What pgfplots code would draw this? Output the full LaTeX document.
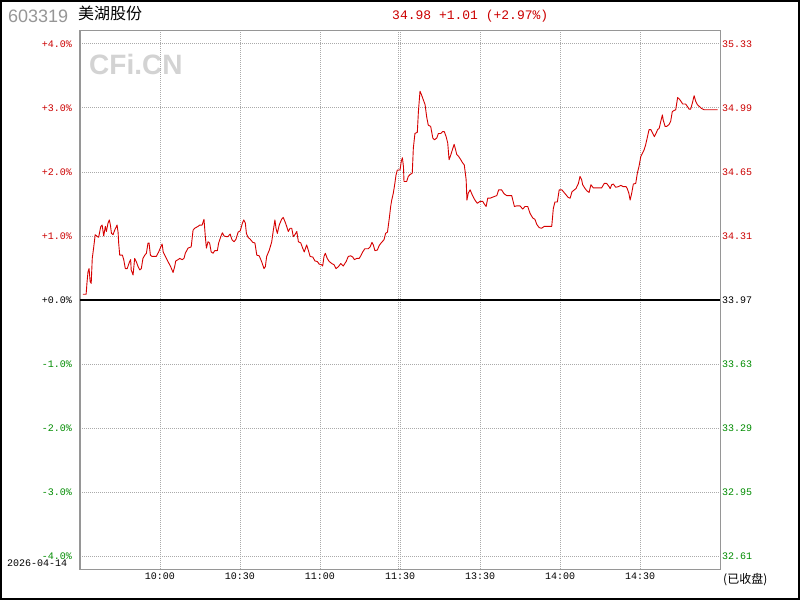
\documentclass[border=0pt]{standalone}
\usepackage{pgfplots}
\pgfplotsset{compat=1.18}
\usepackage{fontspec}
\setmainfont{Liberation Sans}
\setmonofont{Liberation Mono}
\newfontfamily\cjk{Noto Sans CJK SC}

\definecolor{cred}{RGB}{204,0,0}
\definecolor{cline}{RGB}{214,0,0}
\definecolor{cgreen}{RGB}{0,140,0}
\definecolor{axgray}{RGB}{150,150,150}
\definecolor{gridgray}{RGB}{170,170,170}
\definecolor{titlegray}{RGB}{150,150,150}
\definecolor{wmark}{RGB}{211,211,211}

\newcommand{\lbl}{\ttfamily\fontsize{10}{12}\selectfont}

\begin{document}
\begin{tikzpicture}[x=1pt,y=1pt]
\useasboundingbox (0,0) rectangle (800,600);
\fill[white] (0,0) rectangle (800,600);

% header
\node[anchor=base west, inner sep=0pt, text=titlegray, font=\fontsize{18}{20}\selectfont] at (8,577) {603319};
\node[anchor=base west, inner sep=0pt, font=\cjk\fontsize{16}{18}\selectfont] at (78,580) {美湖股份};
\node[anchor=base west, inner sep=0pt, text=cred, font=\ttfamily\fontsize{13}{15}\selectfont] at (392,580) {34.98 +1.01 (+2.97\%)};
\node[anchor=base west, inner sep=0pt, text=wmark, font=\bfseries\fontsize{28}{30}\selectfont] at (89,525) {CFi.CN};

\begin{axis}[
    at={(80pt,31pt)}, anchor=south west,
    scale only axis, width=640pt, height=538pt,
    xmin=0, xmax=240, ymin=-4.2, ymax=4.2,
    axis line style={draw=axgray, line width=1pt},
    major tick length=0pt,
    xtick={30,60,90,120,150,180,210},
    xticklabels={10:00,10:30,11:00,11:30,13:30,14:00,14:30},
    extra x ticks={119.4}, extra x tick labels={},
    ytick={-4,-3,-2,-1,0,1,2,3,4},
    yticklabels={
        \textcolor{cgreen}{-4.0\%},\textcolor{cgreen}{-3.0\%},\textcolor{cgreen}{-2.0\%},\textcolor{cgreen}{-1.0\%},
        +0.0\%,
        \textcolor{cred}{+1.0\%},\textcolor{cred}{+2.0\%},\textcolor{cred}{+3.0\%},\textcolor{cred}{+4.0\%}},
    xticklabel style={font=\lbl, anchor=north, inner sep=0pt, yshift=-4pt},
    yticklabel style={font=\lbl, anchor=east, inner sep=0pt, xshift=-8pt},
    grid=major,
    major grid style={draw=gridgray, line width=0.8pt, dash pattern=on 1pt off 1pt},
    clip=false,
]
\addplot[black, line width=1.3pt] coordinates {(0,0) (240,0)};
\addplot[cline, line width=0.9pt, line join=round] coordinates {
(1.1,0.09) (2.3,0.09) (2.6,0.26) (3.0,0.44) (3.4,0.49) (3.8,0.29) (4.2,0.26) (4.6,0.65)
(5.1,0.81) (5.7,1.02) (6.5,0.99) (7.0,0.98) (7.8,1.15) (8.3,1.17) (8.9,1.00) (9.5,1.15)
(9.9,1.07) (10.5,1.20) (11.0,1.25) (11.4,1.17) (11.8,1.04) (12.4,1.02) (13.0,1.09) (13.9,1.17)
(14.3,1.05) (14.5,0.89) (14.9,0.70) (15.9,0.70) (16.4,0.63) (17.0,0.49) (17.7,0.49) (18.6,0.60)
(19.0,0.63) (19.2,0.47) (19.9,0.39) (20.5,0.65) (21.1,0.60) (21.8,0.52) (22.4,0.47) (23.0,0.49)
(23.6,0.65) (24.3,0.70) (24.9,0.73) (25.5,0.89) (25.9,0.89) (26.4,0.70) (27.0,0.68) (28.6,0.68)
(29.5,0.75) (30.3,0.83) (30.8,0.875) (31.2,0.75) (31.8,0.70) (32.4,0.65) (33.0,0.60) (34.0,0.52)
(34.9,0.43) (35.5,0.52) (35.9,0.61) (36.8,0.63) (37.4,0.65) (38.3,0.63) (39.0,0.65) (39.5,0.73)
(40.5,0.81) (41.7,0.83) (42.4,1.09) (43.0,1.12) (44.3,1.15) (44.9,1.17) (45.8,1.17) (46.5,1.26)
(47.0,0.99) (47.4,0.81) (48.0,0.91) (48.6,0.89) (49.2,0.75) (49.9,0.73) (50.5,0.77) (51.5,0.77)
(52.0,0.89) (52.8,0.99) (53.4,1.05) (54.0,1.00) (54.9,0.99) (55.5,0.99) (56.3,1.03) (57.0,0.94)
(57.8,0.91) (58.5,0.95) (59.3,1.06) (60.1,1.08) (60.9,1.20) (61.4,1.25) (62.0,1.20) (62.4,1.04)
(63.0,0.98) (63.8,0.95) (64.8,0.90) (65.6,0.89) (66.3,0.70) (67.2,0.69) (68.1,0.60) (69.0,0.49)
(69.5,0.52) (70.0,0.68) (71.0,0.78) (71.9,0.91) (72.5,1.09) (73.1,1.25) (73.5,1.12) (74.0,1.04)
(74.7,1.17) (75.6,1.26) (76.2,1.29) (76.9,1.22) (77.5,1.15) (78.1,1.07) (78.8,1.12) (79.4,1.12)
(80.0,0.99) (80.6,1.02) (81.3,1.07) (81.9,0.91) (82.8,0.89) (83.5,0.81) (84.1,0.75) (85.0,0.86)
(85.6,0.78) (86.3,0.68) (87.3,0.67) (88.1,0.61) (89.0,0.60) (89.7,0.56) (90.6,0.55) (91.0,0.53)
(91.5,0.68) (92.0,0.73) (92.7,0.65) (93.5,0.60) (94.4,0.57) (95.3,0.55) (96.0,0.49) (96.9,0.52)
(97.8,0.57) (98.7,0.53) (99.8,0.60) (100.6,0.68) (101.5,0.69) (102.3,0.67) (102.9,0.63) (103.8,0.65)
(104.7,0.65) (105.3,0.69) (106.0,0.75) (106.8,0.80) (108.1,0.80) (108.8,0.83) (109.5,0.90) (110.0,0.86)
(110.6,0.77) (111.5,0.78) (112.2,0.85) (113.1,0.90) (114.0,0.94) (114.6,1.04) (115.3,1.06) (116.0,1.28)
(116.5,1.46) (116.9,1.56) (117.5,1.67) (118.0,1.80) (118.5,1.95) (119.0,2.03) (120.0,2.03) (120.5,2.17)
(120.9,2.22) (121.3,2.08) (121.5,1.85) (122.5,1.85) (123.1,1.93) (123.8,1.96) (124.6,1.98) (125.0,2.37)
(125.6,2.60) (126.5,2.62) (126.9,2.94) (127.5,3.26) (128.1,3.20) (128.7,3.13) (129.4,3.05) (130.0,2.86)
(130.6,2.73) (131.5,2.71) (132.3,2.53) (132.9,2.50) (133.8,2.53) (134.4,2.60) (135.3,2.60) (136.0,2.63)
(136.6,2.63) (137.3,2.55) (137.9,2.45) (138.4,2.19) (139.0,2.26) (139.6,2.34) (140.3,2.43) (140.7,2.37)
(141.3,2.27) (142.0,2.24) (142.8,2.19) (143.5,2.14) (144.1,2.11) (144.8,1.88) (145.1,1.56) (145.6,1.67)
(146.3,1.72) (147.1,1.64) (148.1,1.56) (149.0,1.51) (150.0,1.54) (151.0,1.54) (151.6,1.50) (152.3,1.46)
(152.9,1.59) (153.8,1.59) (155.0,1.61) (156.3,1.63) (157.0,1.72) (158.1,1.72) (159.0,1.66) (160.0,1.63)
(161.9,1.63) (162.3,1.56) (162.9,1.46) (163.8,1.47) (165.0,1.47) (166.0,1.42) (166.9,1.46) (167.9,1.46)
(168.8,1.35) (169.8,1.28) (170.6,1.26) (171.3,1.18) (172.2,1.13) (173.1,1.12) (174.1,1.15) (176.9,1.15)
(177.5,1.43) (178.1,1.53) (179.0,1.53) (179.7,1.72) (180.7,1.72) (181.5,1.68) (182.3,1.64) (183.1,1.60)
(183.8,1.59) (184.5,1.69) (185.4,1.72) (186.0,1.74) (186.9,1.82) (187.5,1.93) (188.1,1.88) (188.5,1.80)
(189.4,1.74) (190.2,1.70) (190.9,1.68) (191.6,1.80) (192.5,1.75) (193.8,1.75) (195.6,1.75) (196.6,1.82)
(197.5,1.82) (198.4,1.77) (198.8,1.74) (199.4,1.80) (200.0,1.81) (200.9,1.76) (201.9,1.77) (202.8,1.79)
(203.7,1.77) (204.8,1.77) (205.2,1.74) (205.8,1.67) (206.3,1.56) (206.9,1.67) (207.5,1.81) (208.4,1.82)
(209.0,1.98) (209.6,2.08) (210.3,2.24) (210.9,2.29) (211.5,2.34) (212.1,2.42) (212.7,2.53) (213.4,2.66)
(214.1,2.66) (214.8,2.60) (215.4,2.55) (216.0,2.60) (216.6,2.66) (217.2,2.68) (217.8,2.79) (218.4,2.89)
(218.7,2.81) (219.4,2.71) (220.0,2.71) (220.9,2.74) (221.5,2.79) (222.1,2.94) (222.8,2.96) (223.4,2.97)
(224.1,3.16) (224.7,3.14) (225.4,3.10) (226.0,3.06) (227.1,3.06) (227.8,3.02) (228.4,2.98) (229.0,2.98)
(229.6,3.07) (230.3,3.19) (230.9,3.10) (231.5,3.05) (232.3,3.02) (233.1,2.99) (234.1,2.97) (239.1,2.97)
};
\end{axis}

% right-hand price scale
\begin{axis}[
    at={(80pt,31pt)}, anchor=south west,
    scale only axis, width=640pt, height=538pt,
    xmin=0, xmax=240, ymin=-4.2, ymax=4.2,
    axis line style={draw=none},
    major tick length=0pt,
    xtick=\empty,
    ytick={-4,-3,-2,-1,0,1,2,3,4},
    yticklabel pos=right,
    yticklabels={
        \textcolor{cgreen}{32.61},\textcolor{cgreen}{32.95},\textcolor{cgreen}{33.29},\textcolor{cgreen}{33.63},
        33.97,
        \textcolor{cred}{34.31},\textcolor{cred}{34.65},\textcolor{cred}{34.99},\textcolor{cred}{35.33}},
    yticklabel style={font=\lbl, anchor=west, inner sep=0pt, xshift=2pt},
]
\end{axis}

\node[anchor=west, inner sep=0pt, font=\lbl] at (7,37) {2026-04-14};
\node[anchor=west, inner sep=0pt, font=\cjk\fontsize{12}{14}\selectfont] at (723,20) {(已收盘)};

\draw[black, line width=2pt] (1,1) rectangle (799,599);
\end{tikzpicture}
\end{document}
